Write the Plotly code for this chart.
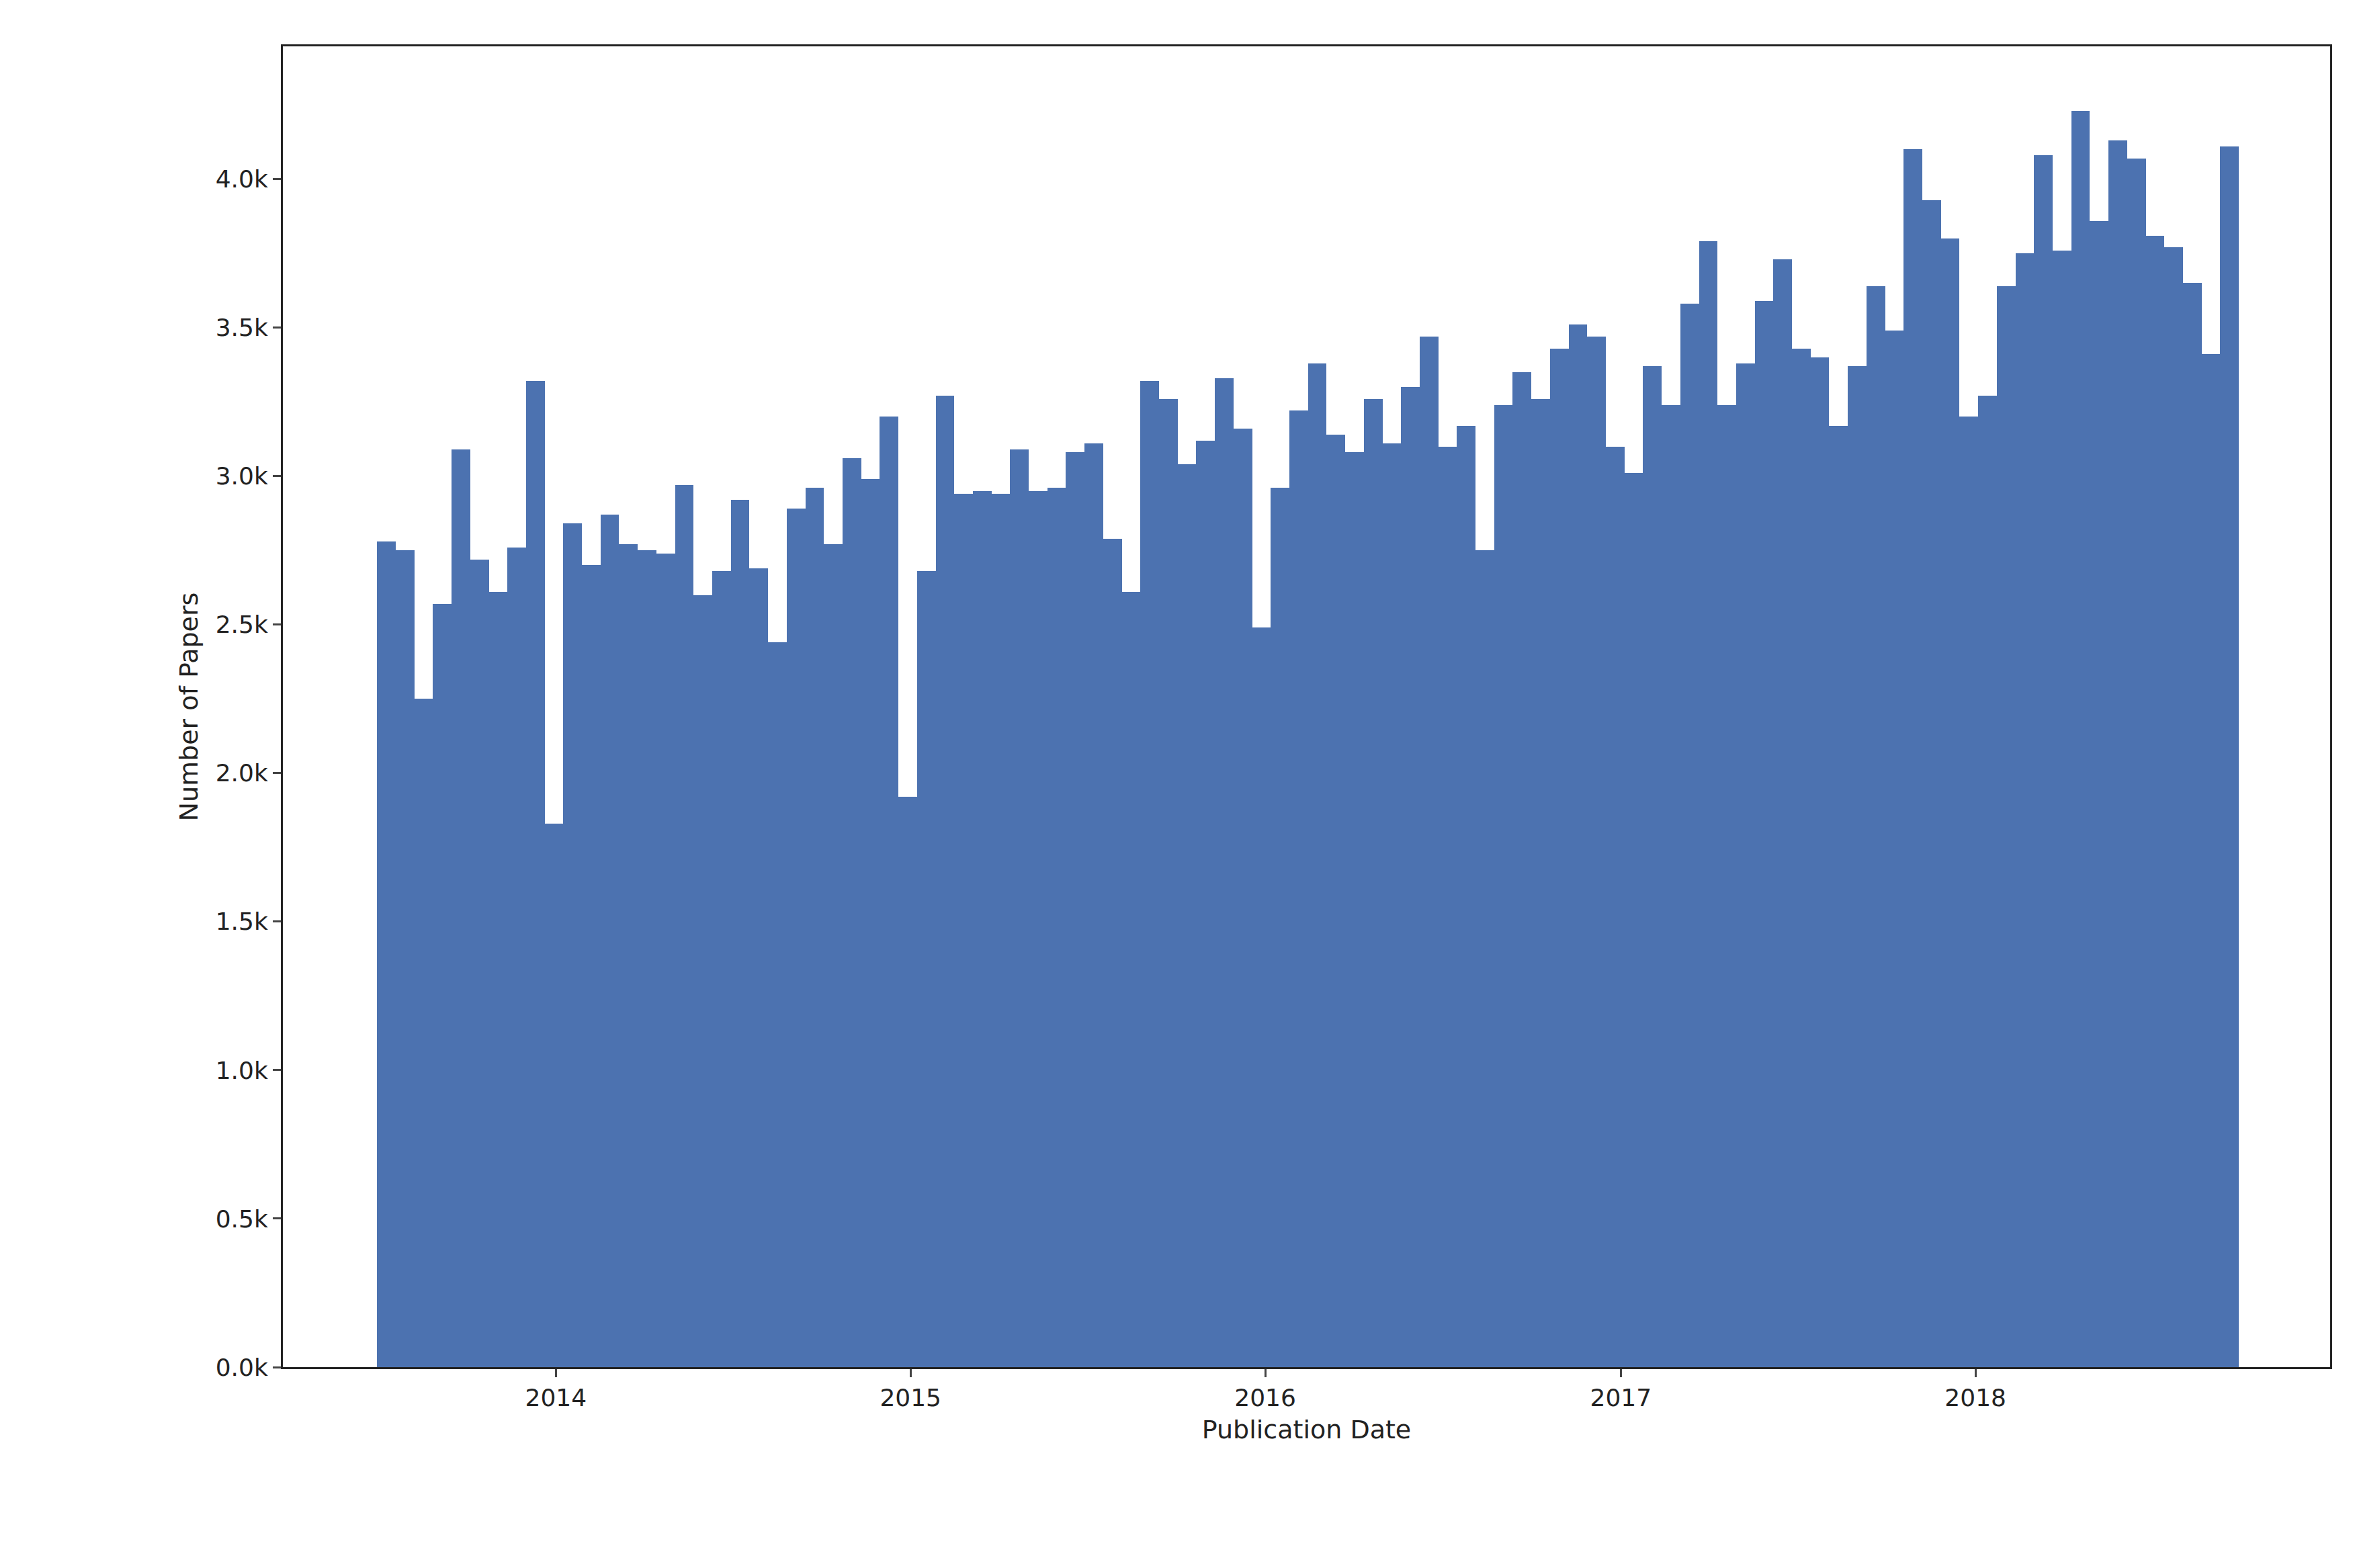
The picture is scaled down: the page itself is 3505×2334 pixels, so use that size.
import plotly.graph_objects as go
import pandas as pd
import numpy as np

counts = [2780, 2750, 2250, 2570, 3090, 2720, 2610, 2760, 3320, 1830, 2840, 2700, 2870, 2770, 2750, 2740, 2970, 2600, 2680, 2920,
          2690, 2440, 2890, 2960, 2770, 3060, 2990, 3200, 1920, 2680, 3270, 2940, 2950, 2940, 3090, 2950, 2960, 3080, 3110, 2790,
          2610, 3320, 3260, 3040, 3120, 3330, 3160, 2490, 2960, 3220, 3380, 3140, 3080, 3260, 3110, 3300, 3470, 3100, 3170, 2750,
          3240, 3350, 3260, 3430, 3510, 3470, 3100, 3010, 3370, 3240, 3580, 3790, 3240, 3380, 3590, 3730, 3430, 3400, 3170, 3370,
          3640, 3490, 4100, 3930, 3800, 3200, 3270, 3640, 3750, 4080, 3760, 4230, 3860, 4130, 4070, 3810, 3770, 3650, 3410, 4110]
start_date = "2013-07-01"
end_date = "2018-09-29"
tick_labels = ["2014", "2015", "2016", "2017", "2018"]

t0 = pd.Timestamp(start_date).value
t1 = pd.Timestamp(end_date).value
edges = np.linspace(t0, t1, len(counts) + 1)
centers = pd.to_datetime((edges[:-1] + edges[1:]) / 2)
width_ms = (edges[1] - edges[0]) / 1e6

fig = go.Figure(go.Bar(x=centers, y=counts, width=[width_ms] * len(counts),
                       marker=dict(color="#4C72B0", line=dict(width=0))))
fig.update_layout(
    width=3505, height=2334, plot_bgcolor="white", paper_bgcolor="white",
    margin=dict(l=413, r=45, t=61, b=307), bargap=0, showlegend=False,
    font=dict(family="DejaVu Sans", size=36, color="#222222"),
)
fig.update_xaxes(range=["2013-03-26", "2019-01-01"], tickvals=[f"{y}-01-01" for y in tick_labels],
                 ticktext=tick_labels, showgrid=False, showline=True, linecolor="#222222", linewidth=3,
                 mirror=True, ticks="outside", ticklen=12, tickwidth=3,
                 title=dict(text="Publication Date", font=dict(size=38)))
yt = [i * 500 for i in range(9)]
fig.update_yaxes(range=[0, 4447], tickvals=yt, ticktext=[f"{v/1000:.1f}k" for v in yt],
                 showgrid=False, showline=True, linecolor="#222222", linewidth=3, mirror=True,
                 ticks="outside", ticklen=12, tickwidth=3, zeroline=False,
                 title=dict(text="Number of Papers", font=dict(size=38)))
fig.write_html("out.html")
